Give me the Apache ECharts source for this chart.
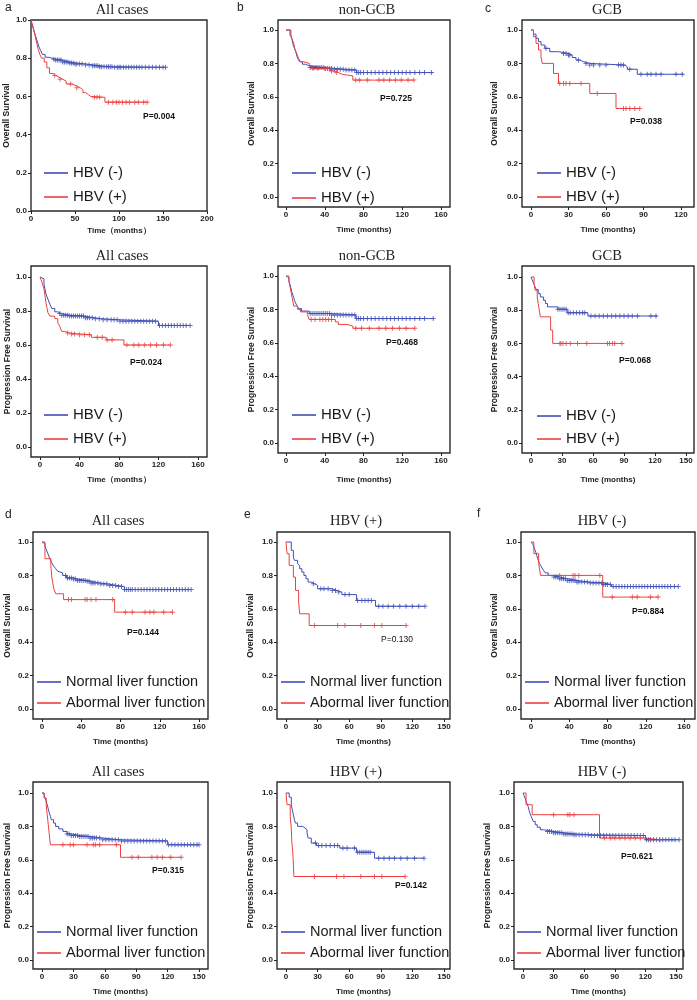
<!DOCTYPE html>
<html><head><meta charset="utf-8">
<script src="https://cdn.jsdelivr.net/npm/echarts@6/dist/echarts.min.js"></script>
<style>html,body{margin:0;padding:0;background:#fff}#c{width:697px;height:1000px}</style>
</head><body><div id="c"></div>
<script>
// ---------- tick labels ----------
const Y_TICKS = [0, 0.2, 0.4, 0.6, 0.8, 1.0];
const X_TICKS_200 = [0, 50, 100, 150, 200];
const X_TICKS_160 = [0, 40, 80, 120, 160];
const X_TICKS_120 = [0, 30, 60, 90, 120];
const X_TICKS_150 = [0, 30, 60, 90, 120, 150];

// ---------- a: OS, all cases ----------
const A_blue_steps = [[0,1],[1,0.98],[3,0.95],[5,0.92],[7,0.89],[9,0.86],[11,0.84],[13,0.82],[16,0.805],[20,0.795],[28,0.79],[36,0.78],[44,0.775],[50,0.77],[62,0.765],[70,0.76],[78,0.755],[95,0.752]];
const A_blue_end = 153;
const A_blue_cens = [26,28,30,32,34,36,38,40,42,44,46,48,50,52,55,58,62,66,70,72,74,76,78,80,83,86,88,90,92,95,98,100,102,105,108,111,114,117,120,123,126,130,134,138,142,146,150,153];
const A_red_steps = [[0,1],[2,0.97],[4,0.93],[6,0.89],[8,0.85],[10,0.82],[12,0.80],[15,0.78],[18,0.75],[21,0.72],[25,0.71],[28,0.70],[32,0.69],[36,0.68],[40,0.665],[46,0.655],[52,0.645],[56,0.635],[59,0.62],[62,0.61],[65,0.60],[68,0.595],[84,0.57]];
const A_red_end = 132;
const A_red_cens = [27,33,45,52,72,75,78,88,93,97,100,104,108,112,118,122,128,132];

// ---------- b: OS, non-GCB ----------
const B_blue_steps = [[0,1],[5,0.97],[6,0.95],[7,0.92],[8,0.90],[10,0.87],[11,0.85],[12,0.83],[14,0.81],[17,0.795],[20,0.785],[24,0.775],[40,0.77],[50,0.765],[60,0.76],[73,0.745]];
const B_blue_end = 152;
const B_blue_cens = [25,27,29,31,33,35,37,39,41,43,45,47,50,53,56,59,62,65,68,71,73,75,77,80,84,88,92,96,100,104,108,112,116,120,124,128,133,138,143,150];
const B_red_steps = [[0,1],[4,0.97],[6,0.95],[8,0.92],[9,0.89],[11,0.86],[13,0.83],[15,0.81],[18,0.80],[24,0.785],[27,0.77],[46,0.755],[50,0.745],[54,0.735],[58,0.725],[69,0.70]];
const B_red_end = 132;
const B_red_cens = [28,33,40,43,47,52,72,76,84,96,101,107,113,119,126,132];

// ---------- c: OS, GCB ----------
const C_blue_steps = [[0,1],[2,0.975],[4,0.95],[6,0.93],[8,0.91],[11,0.89],[15,0.87],[22,0.86],[30,0.85],[33,0.835],[36,0.82],[39,0.81],[42,0.80],[47,0.79],[75,0.78],[77,0.765],[85,0.735]];
const C_blue_end = 122;
const C_blue_cens = [12,26,28,30,31,38,44,47,50,55,60,70,72,74,79,88,93,96,100,104,116,121];
const C_red_steps = [[0,1],[2,0.96],[4,0.92],[6,0.88],[8,0.84],[9,0.80],[18,0.74],[22,0.68],[47,0.62],[68,0.53]];
const C_red_end = 87;
const C_red_cens = [23,26,28,31,40,53,74,76,79,83,87];

// ---------- a2: PFS, all cases ----------
const A2_blue_steps = [[0,1],[2,0.99],[4,0.96],[5,0.93],[6,0.90],[8,0.87],[10,0.84],[12,0.815],[15,0.795],[18,0.785],[22,0.775],[30,0.77],[45,0.76],[55,0.755],[62,0.748],[80,0.74],[120,0.715]];
const A2_blue_end = 152;
const A2_blue_cens = [20,22,24,26,28,30,32,34,36,38,40,42,44,46,48,50,53,56,60,64,68,72,75,78,81,84,87,90,93,96,99,102,105,108,111,114,117,121,124,127,130,133,136,139,142,145,148,152];
const A2_red_steps = [[0,1],[2,0.97],[4,0.93],[5,0.89],[6,0.85],[7,0.82],[8,0.79],[10,0.77],[15,0.755],[18,0.73],[20,0.71],[22,0.68],[25,0.67],[30,0.665],[40,0.66],[52,0.645],[67,0.63],[85,0.60]];
const A2_red_end = 132;
const A2_red_cens = [28,32,35,40,45,50,58,63,68,73,88,95,100,106,112,118,125,132];

// ---------- b2: PFS, non-GCB ----------
const B2_blue_steps = [[0,1],[2,0.99],[3,0.97],[5,0.93],[6,0.905],[8,0.87],[9,0.85],[11,0.825],[13,0.805],[16,0.79],[24,0.775],[47,0.767],[72,0.745]];
const B2_blue_end = 152;
const B2_blue_cens = [25,27,29,31,33,35,37,39,41,43,45,47,50,53,56,59,62,65,68,71,73,75,77,80,84,88,92,96,100,104,108,112,116,120,124,128,133,138,143,152];
const B2_red_steps = [[0,1],[3,0.97],[4,0.94],[5,0.91],[6,0.88],[7,0.85],[8,0.82],[12,0.80],[15,0.785],[22,0.77],[24,0.74],[51,0.725],[54,0.71],[63,0.70],[69,0.687]];
const B2_red_end = 133;
const B2_red_cens = [26,30,35,38,41,44,47,72,78,86,96,103,110,117,124,133];

// ---------- c2: PFS, GCB ----------
const C2_blue_steps = [[0,1],[1,0.985],[2,0.97],[3,0.955],[4,0.94],[5,0.925],[7,0.90],[9,0.88],[12,0.86],[14,0.84],[16,0.82],[26,0.805],[35,0.785],[55,0.765]];
const C2_blue_end = 122;
const C2_blue_cens = [26,28,30,32,34,36,38,41,44,47,50,52,58,62,66,70,74,78,82,86,90,94,98,103,116,121];
const C2_red_steps = [[0,1],[3,0.96],[4,0.92],[6,0.88],[7,0.84],[8,0.80],[9,0.76],[19,0.68],[21,0.60]];
const C2_red_end = 88;
const C2_red_cens = [28,29,31,34,38,45,54,74,76,79,81,88];

// ---------- d: OS, all cases (liver) ----------
const D_blue_steps = [[0,1],[2,0.99],[3,0.975],[4,0.96],[6,0.93],[8,0.90],[10,0.875],[12,0.855],[14,0.84],[16,0.825],[18,0.815],[21,0.80],[25,0.785],[32,0.778],[36,0.77],[45,0.765],[50,0.755],[58,0.748],[68,0.74],[76,0.733],[84,0.715]];
const D_blue_end = 152;
const D_blue_cens = [24,26,28,30,32,34,36,38,40,42,44,46,48,50,52,54,57,60,63,66,69,72,75,78,81,84,86,88,90,92,95,98,101,104,107,110,113,116,119,122,125,128,131,134,137,140,143,146,149,152];
const D_red_steps = [[0,1],[3,0.90],[9,0.86],[10,0.79],[12,0.72],[14,0.69],[22,0.655],[74,0.58]];
const D_red_end = 133;
const D_red_cens = [27,30,44,46,50,55,72,85,92,105,110,114,124,133];

// ---------- e: OS, HBV (+) ----------
const E_blue_steps = [[0,1],[5,0.95],[7,0.91],[8,0.89],[11,0.87],[12,0.86],[13,0.84],[15,0.82],[17,0.80],[19,0.78],[21,0.76],[24,0.75],[27,0.74],[30,0.72],[44,0.71],[48,0.70],[53,0.685],[67,0.65],[85,0.615]];
const E_blue_end = 132;
const E_blue_cens = [26,33,36,40,44,47,50,56,60,68,72,75,78,81,88,92,97,102,108,114,120,126,132];
const E_red_steps = [[0,1],[1,0.93],[3,0.86],[7,0.79],[9,0.71],[12,0.64],[13,0.57],[22,0.50]];
const E_red_end = 114;
const E_red_cens = [27,49,56,71,84,91,114];

// ---------- f: OS, HBV (-) ----------
const F_blue_steps = [[0,1],[2,0.985],[3,0.97],[4,0.955],[5,0.94],[6,0.92],[7,0.90],[8,0.885],[9,0.87],[11,0.85],[13,0.83],[15,0.815],[18,0.80],[23,0.79],[30,0.78],[38,0.77],[48,0.76],[60,0.755],[76,0.745],[84,0.733]];
const F_blue_end = 154;
const F_blue_cens = [24,26,28,30,32,34,36,38,40,42,44,46,48,50,53,56,59,62,65,68,71,74,76,78,80,83,86,89,92,95,98,101,104,107,110,113,116,119,122,125,128,131,134,137,140,143,146,150,154];
const F_red_steps = [[0,1],[3,0.93],[8,0.87],[10,0.80],[75,0.67]];
const F_red_end = 133;
const F_red_cens = [30,44,46,50,72,85,106,111,125,133];

// ---------- d2: PFS, all cases (liver) ----------
const D2_blue_steps = [[0,1],[2,0.985],[3,0.97],[4,0.95],[5,0.93],[6,0.905],[7,0.88],[8,0.86],[9,0.84],[11,0.82],[13,0.80],[16,0.785],[20,0.77],[24,0.755],[28,0.745],[36,0.74],[46,0.73],[58,0.72],[74,0.713],[120,0.69]];
const D2_blue_end = 150;
const D2_blue_cens = [24,26,28,30,32,34,36,38,40,42,44,46,48,50,52,55,58,61,64,67,70,73,76,79,82,85,88,91,94,97,100,103,106,109,112,115,118,121,124,127,130,133,136,139,142,145,148,150];
const D2_red_steps = [[0,1],[2,0.97],[4,0.93],[5,0.87],[6,0.81],[7,0.75],[8,0.69],[75,0.615]];
const D2_red_end = 133;
const D2_red_cens = [20,27,30,43,49,51,55,71,86,92,105,110,115,123,133];

// ---------- e2: PFS, HBV (+) ----------
const E2_blue_steps = [[0,1],[3,0.975],[5,0.93],[6,0.90],[7,0.87],[8,0.84],[9,0.82],[11,0.80],[16,0.79],[18,0.78],[20,0.76],[21,0.73],[24,0.70],[29,0.685],[51,0.67],[67,0.645],[84,0.61]];
const E2_blue_end = 131;
const E2_blue_cens = [28,31,34,38,42,46,49,54,58,65,68,70,72,74,76,78,80,88,93,98,103,109,115,122,131];
const E2_red_steps = [[0,1],[1,0.93],[4,0.86],[5,0.79],[5.5,0.71],[6.5,0.64],[7.5,0.50]];
const E2_red_end = 113;
const E2_red_cens = [27,48,55,71,84,91,113];

// ---------- f2: PFS, HBV (-) ----------
const F2_blue_steps = [[0,1],[1,0.985],[2,0.97],[3,0.95],[4,0.935],[5,0.92],[6,0.895],[7,0.875],[8,0.86],[9,0.845],[10,0.83],[12,0.81],[14,0.795],[17,0.78],[20,0.77],[30,0.762],[40,0.755],[50,0.75],[66,0.745],[120,0.72]];
const F2_blue_end = 153;
const F2_blue_cens = [24,26,28,30,32,34,36,38,40,42,44,46,48,50,52,55,58,61,64,67,70,73,76,79,82,85,88,91,94,97,100,103,106,109,112,115,118,121,123,125,128,131,134,137,140,143,146,149,153];
const F2_red_steps = [[0,1],[3,0.93],[9,0.87],[75,0.73],[120,0.72]];
const F2_red_end = 134;
const F2_red_cens = [30,44,46,50,80,86,90,95,100,105,110,115,125,134];

const HBV_NAMES = ['HBV (-)', 'HBV (+)'];
const LIVER_NAMES = ['Normal liver function', 'Abormal liver function'];
const P_VALUES = ['P=0.004','P=0.725','P=0.038','P=0.024','P=0.468','P=0.068','P=0.144','P=0.130','P=0.884','P=0.315','P=0.142','P=0.621'];

// ---------- layout ----------
const BLUE = '#3f4fb4', RED = '#ec4040';
const SANS = "'Liberation Sans', Arial, sans-serif";
const SERIF = "'Liberation Serif', 'Times New Roman', serif";

const panels = [
 {box:[31,20,207,211], xp:[31,207], xT:200, yp:[20,211], xt:X_TICKS_200, yName:'Overall Survival', xName:'Time\uFF08months\uFF09', yGap:20, xGap:16,
  title:'All cases', tpos:[122,10], letter:'a', lpos:[5,8], names:HBV_NAMES, leg:[44,173,24], fs:15, p:[143,117],
  blue:[A_blue_steps,A_blue_end,A_blue_cens], red:[A_red_steps,A_red_end,A_red_cens]},
 {box:[278,20,450,207], xp:[286,441], xT:160, yp:[30,197], xt:X_TICKS_160, yName:'Overall Survival', xName:'Time (months)', yGap:22, xGap:19,
  title:'non-GCB', tpos:[367,10], letter:'b', lpos:[237,8], names:HBV_NAMES, leg:[292,173,25], fs:15, p:[380,99],
  blue:[B_blue_steps,B_blue_end,B_blue_cens], red:[B_red_steps,B_red_end,B_red_cens]},
 {box:[522,20,694,207], xp:[531,681], xT:120, yp:[30,197], xt:X_TICKS_120, yName:'Overall Survival', xName:'Time (months)', yGap:23, xGap:19,
  title:'GCB', tpos:[607,10], letter:'c', lpos:[485,9], names:HBV_NAMES, leg:[537,173,24], fs:15, p:[630,122],
  blue:[C_blue_steps,C_blue_end,C_blue_cens], red:[C_red_steps,C_red_end,C_red_cens]},
 {box:[31,266,207,457], xp:[40,198], xT:160, yp:[277,447], xt:X_TICKS_160, yName:'Progression Free Survival', xName:'Time\uFF08months\uFF09', yGap:19, xGap:19,
  title:'All cases', tpos:[122,256], letter:'', lpos:[0,0], names:HBV_NAMES, leg:[44,415,24], fs:15, p:[130,363],
  blue:[A2_blue_steps,A2_blue_end,A2_blue_cens], red:[A2_red_steps,A2_red_end,A2_red_cens]},
 {box:[278,266,450,453], xp:[286,441], xT:160, yp:[276,443], xt:X_TICKS_160, yName:'Progression Free Survival', xName:'Time (months)', yGap:22, xGap:23,
  title:'non-GCB', tpos:[367,256], letter:'', lpos:[0,0], names:HBV_NAMES, leg:[292,415,24], fs:15, p:[386,343],
  blue:[B2_blue_steps,B2_blue_end,B2_blue_cens], red:[B2_red_steps,B2_red_end,B2_red_cens]},
 {box:[522,266,694,453], xp:[531,686], xT:150, yp:[277,443], xt:X_TICKS_150, yName:'Progression Free Survival', xName:'Time (months)', yGap:23, xGap:23,
  title:'GCB', tpos:[607,256], letter:'', lpos:[0,0], names:HBV_NAMES, leg:[537,416,23], fs:15, p:[619,361],
  blue:[C2_blue_steps,C2_blue_end,C2_blue_cens], red:[C2_red_steps,C2_red_end,C2_red_cens]},
 {box:[33,532,208,719], xp:[42,199], xT:160, yp:[542,709], xt:X_TICKS_160, yName:'Overall Survival', xName:'Time (months)', yGap:21, xGap:19,
  title:'All cases', tpos:[118,521], letter:'d', lpos:[5,515], names:LIVER_NAMES, leg:[37,682,21], fs:14.5, p:[127,633],
  blue:[D_blue_steps,D_blue_end,D_blue_cens], red:[D_red_steps,D_red_end,D_red_cens]},
 {box:[277,532,450,719], xp:[286,444], xT:150, yp:[542,709], xt:X_TICKS_150, yName:'Overall Survival', xName:'Time (months)', yGap:22, xGap:19,
  title:'HBV (+)', tpos:[356,521], letter:'e', lpos:[244,515], names:LIVER_NAMES, leg:[281,682,21], fs:14.5, p:[381,640], pNormal:true,
  blue:[E_blue_steps,E_blue_end,E_blue_cens], red:[E_red_steps,E_red_end,E_red_cens]},
 {box:[521,532,695,719], xp:[531,684], xT:160, yp:[542,709], xt:X_TICKS_160, yName:'Overall Survival', xName:'Time (months)', yGap:22, xGap:19,
  title:'HBV (-)', tpos:[602,521], letter:'f', lpos:[477,514], names:LIVER_NAMES, leg:[525,682,21], fs:14.5, p:[632,612],
  blue:[F_blue_steps,F_blue_end,F_blue_cens], red:[F_red_steps,F_red_end,F_red_cens]},
 {box:[33,782,208,969], xp:[42,199], xT:150, yp:[793,960], xt:X_TICKS_150, yName:'Progression Free Survival', xName:'Time (months)', yGap:21, xGap:19,
  title:'All cases', tpos:[118,772], letter:'', lpos:[0,0], names:LIVER_NAMES, leg:[37,932,21], fs:14.5, p:[152,871],
  blue:[D2_blue_steps,D2_blue_end,D2_blue_cens], red:[D2_red_steps,D2_red_end,D2_red_cens]},
 {box:[277,782,450,969], xp:[286,444], xT:150, yp:[793,960], xt:X_TICKS_150, yName:'Progression Free Survival', xName:'Time (months)', yGap:22, xGap:19,
  title:'HBV (+)', tpos:[356,772], letter:'', lpos:[0,0], names:LIVER_NAMES, leg:[281,932,21], fs:14.5, p:[395,886],
  blue:[E2_blue_steps,E2_blue_end,E2_blue_cens], red:[E2_red_steps,E2_red_end,E2_red_cens]},
 {box:[514,782,683,969], xp:[523,676], xT:150, yp:[793,960], xt:X_TICKS_150, yName:'Progression Free Survival', xName:'Time (months)', yGap:22, xGap:19,
  title:'HBV (-)', tpos:[602,772], letter:'', lpos:[0,0], names:LIVER_NAMES, leg:[517,932,21], fs:14.5, p:[621,857],
  blue:[F2_blue_steps,F2_blue_end,F2_blue_cens], red:[F2_red_steps,F2_red_end,F2_red_cens]}
];

function survAt(steps, t) { let s = 1; for (const [tt, ss] of steps) if (tt <= t) s = ss; return s; }
const PLUS = 'path://M2,0h1v5h-1z M0,2h5v1h-5z';

const option = {animation:false, grid:[], xAxis:[], yAxis:[], series:[], legend:[], graphic:[]};

panels.forEach((P, i) => {
  const [L, T, R, B] = P.box;
  option.grid.push({left:L, top:T, width:R-L, height:B-T, show:true, borderColor:'#2b2b2b', borderWidth:1.4, backgroundColor:'transparent', containLabel:false});
  const kx = (P.xp[1]-P.xp[0]) / P.xT;
  const ky = (P.yp[1]-P.yp[0]);
  const xmin = -(P.xp[0]-L)/kx, xmax = P.xT + (R-P.xp[1])/kx;
  const ymax = 1 + (P.yp[0]-T)/ky, ymin = -(B-P.yp[1])/ky;
  const labelStyle = {fontSize:8, fontWeight:'bold', color:'#222', fontFamily:SANS};
  option.xAxis.push({type:'value', gridIndex:i, min:xmin, max:xmax, position:'bottom',
    axisLine:{show:false, onZero:false}, splitLine:{show:false},
    axisTick:{show:true, length:3, lineStyle:{color:'#222', width:1}, customValues:P.xt},
    axisLabel:Object.assign({customValues:P.xt, margin:4, hideOverlap:false, showMinLabel:true, showMaxLabel:true}, labelStyle),
    name:P.xName, nameLocation:'middle', nameGap:P.xGap, nameTextStyle:Object.assign({}, labelStyle)});
  option.yAxis.push({type:'value', gridIndex:i, min:ymin, max:ymax, position:'left',
    axisLine:{show:false, onZero:false}, splitLine:{show:false},
    axisTick:{show:true, length:3, lineStyle:{color:'#222', width:1}, customValues:Y_TICKS},
    axisLabel:Object.assign({customValues:Y_TICKS, margin:4, formatter:v => v.toFixed(1), showMinLabel:true, showMaxLabel:true}, labelStyle),
    name:P.yName, nameLocation:'middle', nameGap:P.yGap, nameTextStyle:Object.assign({}, labelStyle, {fontSize:8.5})});
  [['blue', BLUE, 0], ['red', RED, 1]].forEach(([k, col, ni]) => {
    const [steps, end, cens] = P[k];
    const data = steps.concat([[end, steps[steps.length-1][1]]]);
    option.series.push({type:'line', name:P.names[ni], xAxisIndex:i, yAxisIndex:i, step:'end', symbol:'none', showSymbol:false,
      data:data, lineStyle:{color:col, width:1}, itemStyle:{color:col}, z:3});
    option.series.push({type:'scatter', name:P.names[ni]+' censored', xAxisIndex:i, yAxisIndex:i,
      symbol:PLUS, symbolSize:5, data:cens.map(t => [t, survAt(steps, t)]), itemStyle:{color:col}, z:4});
  });
  const lh = P.fs + 1;
  option.legend.push({left:P.leg[0], top:P.leg[1] - lh/2, orient:'vertical', padding:0, itemGap:P.leg[2]-lh,
    icon:'rect', itemWidth:24, itemHeight:1.6, selectedMode:false, data:P.names.slice(),
    textStyle:{fontSize:P.fs, lineHeight:lh, color:'#1a1a1a', fontFamily:SANS}});
  option.graphic.push({type:'text', silent:true, style:{text:P.title, x:P.tpos[0], y:P.tpos[1], align:'center', verticalAlign:'middle', textAlign:'center', textVerticalAlign:'middle', font:'14.5px ' + SERIF, fill:'#222'}});
  option.graphic.push({type:'text', silent:true, style:{text:P_VALUES[i], x:P.p[0], y:P.p[1], align:'left', verticalAlign:'middle', textAlign:'left', textVerticalAlign:'middle', font:(P.pNormal ? '' : 'bold ') + '8.5px ' + SANS, fill:'#111'}});
  if (P.letter) option.graphic.push({type:'text', silent:true, style:{text:P.letter, x:P.lpos[0], y:P.lpos[1], align:'left', verticalAlign:'middle', textAlign:'left', textVerticalAlign:'middle', font:'12px ' + SANS, fill:'#222'}});
});

const chart = echarts.init(document.getElementById('c'), null, {renderer:'canvas'});
chart.setOption(option);
</script></body></html>
